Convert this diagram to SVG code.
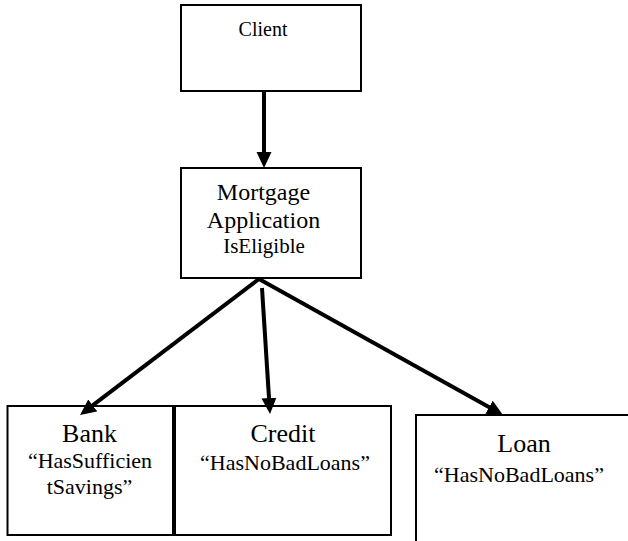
<svg xmlns="http://www.w3.org/2000/svg" width="628" height="541" viewBox="0 0 628 541">
<style>
.box{fill:#fff;stroke:#000;stroke-width:2}
.t{fill:#000;text-anchor:middle}
.edge{fill:none;stroke:#000;stroke-width:4}
</style>
<defs>
<marker id="arrow" markerUnits="userSpaceOnUse" markerWidth="16" markerHeight="16" viewBox="0 0 16 16" refX="8" refY="8" orient="auto">
<path d="M0,0.5 L16,8 L0,15.5 z" fill="#000"/>
</marker>
</defs>
<rect width="628" height="541" fill="#fff"/>
<g font-family="'Liberation Serif', 'Times New Roman', Times, serif">
<g id="client">
<rect class="box" x="181" y="5" width="180" height="86"/>
<text class="t" x="263" y="36" font-size="20">Client</text>
</g>
<g id="mortgage">
<rect class="box" x="181" y="168" width="180" height="110"/>
<text class="t" x="263.5" y="200" font-size="24">Mortgage</text>
<text class="t" x="263.5" y="228" font-size="24">Application</text>
<text class="t" x="264" y="253" font-size="21">IsEligible</text>
</g>
<g id="bank">
<rect class="box" x="7.5" y="406" width="165.5" height="129"/>
<text class="t" x="89.5" y="442" font-size="26">Bank</text>
<text class="t" x="90" y="468" font-size="22">“HasSufficien</text>
<text class="t" x="89.5" y="494" font-size="22">tSavings”</text>
</g>
<g id="credit">
<rect class="box" x="175" y="406" width="216" height="129"/>
<text class="t" x="283" y="442" font-size="26">Credit</text>
<text class="t" x="285" y="470" font-size="22">“HasNoBadLoans”</text>
</g>
<g id="loan">
<rect class="box" x="416" y="415" width="300" height="200"/>
<text class="t" x="524" y="452" font-size="26">Loan</text>
<text class="t" x="519" y="482" font-size="22">“HasNoBadLoans”</text>
</g>
</g>
<g id="connectors">
<path class="edge" d="M264,91 L264,160" marker-end="url(#arrow)"/>
<path class="edge" d="M259,279 L86.4,410.2" marker-end="url(#arrow)"/>
<path class="edge" d="M262,288 L269.5,406" marker-end="url(#arrow)"/>
<path class="edge" d="M259,279 L496,411.1" marker-end="url(#arrow)"/>
</g>
</svg>
